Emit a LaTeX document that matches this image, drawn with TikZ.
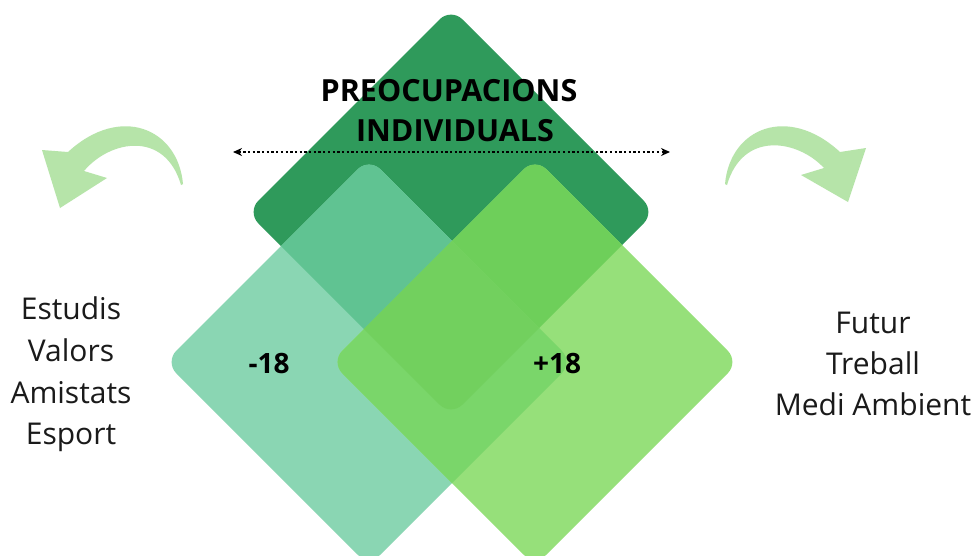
\documentclass[tikz,border=0pt]{standalone}
\usepackage{fontspec}
\setmainfont{Open Sans}
\usetikzlibrary{arrows.meta}
\definecolor{dk}{HTML}{2F9A5B}
\definecolor{lf}{HTML}{8AD6B3}
\definecolor{rt}{HTML}{96E07A}
\definecolor{dklf}{HTML}{60C392}
\definecolor{dkrt}{HTML}{6ECF5A}
\definecolor{lfrt}{HTML}{7AD66A}
\definecolor{tri}{HTML}{72D05E}
\definecolor{arw}{HTML}{B6E4A9}
\definecolor{txt}{HTML}{1A1A1A}
\begin{document}
\begin{tikzpicture}[x=1pt,y=-1pt,
  sidetext/.style={font=\fontsize{30}{36}\selectfont, text=txt, anchor=base, inner sep=0pt},
  boldtext/.style={font=\bfseries\fontsize{30.5}{36}\selectfont, text=black, anchor=base, inner sep=0pt},
  numtext/.style={font=\bfseries\fontsize{28}{34}\selectfont, text=black, anchor=base, inner sep=0pt},
  curvearrow/.style={fill=arw, draw=none}]
\useasboundingbox (0,0) rectangle (976,555);
\fill[white] (0,0) rectangle (976,555);
\def\dkpath{[rounded corners=16pt] (451,8) -- (655,212) -- (451,416) -- (247,212) -- cycle}
\def\lfpath{[rounded corners=16pt] (369,158) -- (573,362) -- (369,566) -- (165,362) -- cycle}
\def\rtpath{[rounded corners=16pt] (535,158) -- (739,362) -- (535,566) -- (331,362) -- cycle}
% base diamonds
\fill[dk] \dkpath;
\fill[lf] \lfpath;
\fill[rt] \rtpath;
% pairwise overlaps
\begin{scope}\clip \dkpath; \fill[dklf] \lfpath; \end{scope}
\begin{scope}\clip \dkpath; \fill[dkrt] \rtpath; \end{scope}
\begin{scope}\clip \lfpath; \fill[lfrt] \rtpath; \end{scope}
\begin{scope}\clip \dkpath; \clip \lfpath; \fill[tri] \rtpath; \end{scope}
% curved arrows
\fill[curvearrow] (183,184) .. controls (178,128) and (120,104) .. (68,152)
  -- (42,150) -- (60,208) -- (107,178) -- (84,171)
  .. controls (110,140) and (165,130) .. (181,185) -- cycle;
\begin{scope}[xshift=908pt, xscale=-1]
\fill[curvearrow] (183,184) .. controls (178,128) and (120,104) .. (68,152)
  -- (42,148) -- (60,202) -- (107,175) -- (84,168)
  .. controls (110,140) and (165,130) .. (181,185) -- cycle;
\end{scope}
% title
\node[boldtext] (t1) at (449,101) {PREOCUPACIONS};
\node[boldtext] (t2) at (455,141) {INDIVIDUALS};
% dotted double arrow
\coordinate (al) at (233,152);
\coordinate (ar) at (670,152);
\draw[line width=2.3pt, dash pattern=on 2.3pt off 2.4pt,
  {Stealth[length=9pt,width=8pt]}-{Stealth[length=9pt,width=8pt]}] (al) -- (ar);
% numbers
\node[numtext] (m18) at (269,373) {-18};
\node[numtext] (p18) at (557,373) {+18};
% left text
\node[sidetext] (l1) at (71,319) {Estudis};
\node[sidetext] (l2) at (71,361) {Valors};
\node[sidetext] (l3) at (71,403) {Amistats};
\node[sidetext] (l4) at (71,444) {Esport};
% right text
\node[sidetext] (r1) at (873,333) {Futur};
\node[sidetext] (r2) at (873,374) {Treball};
\node[sidetext] (r3) at (873,415) {Medi Ambient};
\end{tikzpicture}
\end{document}
